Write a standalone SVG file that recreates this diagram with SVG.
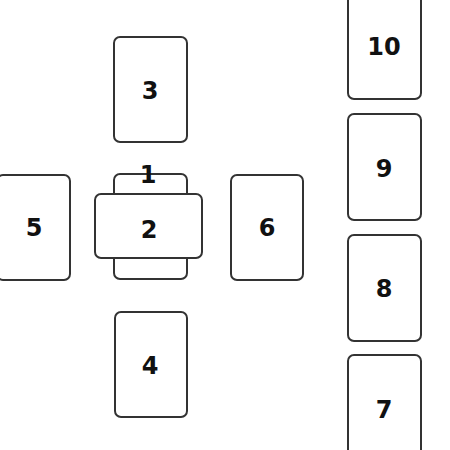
<svg xmlns="http://www.w3.org/2000/svg" width="450" height="450" viewBox="0 0 450 450">
<style>
.card{fill:#fff;stroke:#333;stroke-width:2}
.lbl{font-family:"DejaVu Sans","Liberation Sans",sans-serif;font-weight:bold;font-size:24px;fill:#111;text-anchor:middle}
</style>
<rect width="450" height="450" fill="#fff"/>
<g id="card3"><rect class="card" x="114" y="37" width="73" height="105" rx="6"/><text class="lbl" x="150" y="99">3</text></g>
<g id="card1"><rect class="card" x="114" y="174" width="73" height="105" rx="6"/></g>
<g id="card2"><rect class="card" x="95" y="194" width="107" height="64" rx="6"/><text class="lbl" x="149" y="238">2</text></g>
<g id="label1"><text class="lbl" x="148" y="183">1</text></g>
<g id="card5"><rect class="card" x="-3" y="175" width="73" height="105" rx="6"/><text class="lbl" x="34" y="236">5</text></g>
<g id="card6"><rect class="card" x="231" y="175" width="72" height="105" rx="6"/><text class="lbl" x="267" y="236">6</text></g>
<g id="card4"><rect class="card" x="115" y="312" width="72" height="105" rx="6"/><text class="lbl" x="150" y="374">4</text></g>
<g id="card10"><rect class="card" x="348" y="-7" width="73" height="106" rx="6"/><text class="lbl" x="384" y="55">10</text></g>
<g id="card9"><rect class="card" x="348" y="114" width="73" height="106" rx="6"/><text class="lbl" x="384" y="177">9</text></g>
<g id="card8"><rect class="card" x="348" y="235" width="73" height="106" rx="6"/><text class="lbl" x="384" y="297">8</text></g>
<g id="card7"><rect class="card" x="348" y="355" width="73" height="106" rx="6"/><text class="lbl" x="384" y="418">7</text></g>
<g id="connectors"/>
</svg>
